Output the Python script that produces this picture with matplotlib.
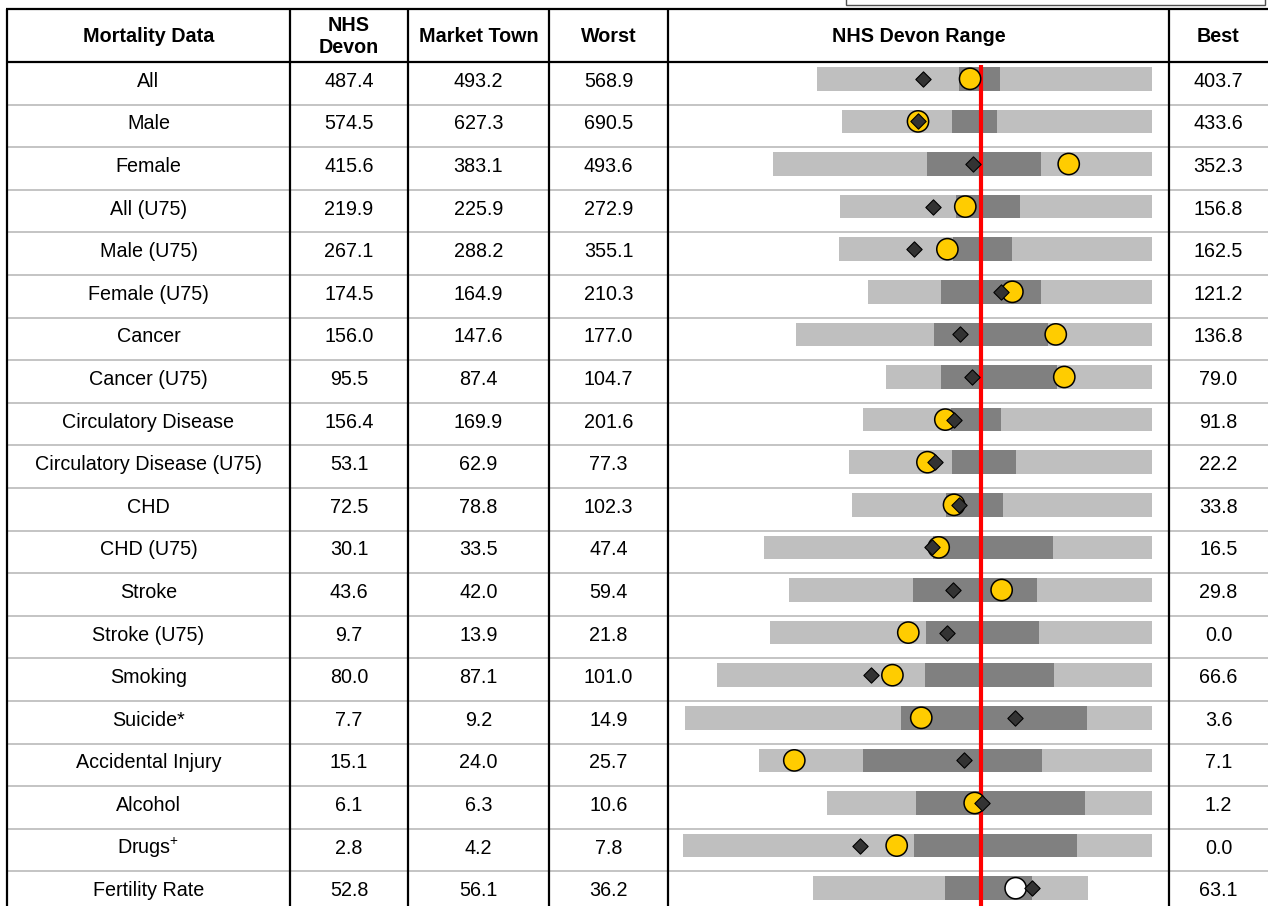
import matplotlib
matplotlib.use("Agg")
import matplotlib.pyplot as plt
from matplotlib.patches import Rectangle

plt.rcParams['font.family'] = ['Liberation Sans', 'DejaVu Sans']
plt.rcParams['mathtext.fontset'] = 'custom'
plt.rcParams['mathtext.rm'] = 'Liberation Sans'

# ---------------- data ----------------
categories = ["All", "Male", "Female", "All (U75)", "Male (U75)", "Female (U75)",
              "Cancer", "Cancer (U75)", "Circulatory Disease",
              "Circulatory Disease (U75)", "CHD", "CHD (U75)", "Stroke",
              "Stroke (U75)", "Smoking", "Suicide*", "Accidental Injury",
              "Alcohol", "Drugs$^{+}$", "Fertility Rate"]
nhs_devon = ["487.4", "574.5", "415.6", "219.9", "267.1", "174.5", "156.0", "95.5",
             "156.4", "53.1", "72.5", "30.1", "43.6", "9.7", "80.0", "7.7", "15.1",
             "6.1", "2.8", "52.8"]
market_town = ["493.2", "627.3", "383.1", "225.9", "288.2", "164.9", "147.6", "87.4",
               "169.9", "62.9", "78.8", "33.5", "42.0", "13.9", "87.1", "9.2", "24.0",
               "6.3", "4.2", "56.1"]
worst = ["568.9", "690.5", "493.6", "272.9", "355.1", "210.3", "177.0", "104.7",
         "201.6", "77.3", "102.3", "47.4", "59.4", "21.8", "101.0", "14.9", "25.7",
         "10.6", "7.8", "36.2"]
best = ["403.7", "433.6", "352.3", "156.8", "162.5", "121.2", "136.8", "79.0",
        "91.8", "22.2", "33.8", "16.5", "29.8", "0.0", "66.6", "3.6", "7.1",
        "1.2", "0.0", "63.1"]

# spine-chart scores (England average = 0, best end = 1)
range_low = [-0.963, -0.816, -1.221, -0.828, -0.834, -0.664, -1.086, -0.559, -0.693,
             -0.775, -0.758, -1.273, -1.127, -1.238, -1.549, -1.736, -1.303, -0.904,
             -1.748, -0.986]
range_high = [1.0, 1.0, 1.0, 1.0, 1.0, 1.0, 1.0, 1.0, 1.0, 1.0, 1.0, 1.0, 1.0, 1.0,
              1.0, 1.0, 1.0, 1.0, 1.0, 0.625]
iqr_low = [-0.131, -0.172, -0.318, -0.148, -0.166, -0.236, -0.277, -0.236, -0.178,
           -0.172, -0.207, -0.283, -0.400, -0.324, -0.330, -0.471, -0.693, -0.383,
           -0.395, -0.213]
iqr_high = [0.109, 0.092, 0.350, 0.227, 0.180, 0.350, 0.391, 0.445, 0.115, 0.203,
            0.127, 0.420, 0.326, 0.338, 0.426, 0.619, 0.355, 0.607, 0.561, 0.297]
devon_score = [-0.344, -0.371, -0.051, -0.281, -0.395, 0.115, -0.127, -0.057, -0.162,
               -0.271, -0.133, -0.289, -0.164, -0.199, -0.648, 0.199, -0.100, 0.006,
               -0.709, 0.299]
town_score = [-0.066, -0.371, 0.512, -0.094, -0.199, 0.182, 0.436, 0.486, -0.211,
              -0.316, -0.160, -0.250, 0.119, -0.428, -0.521, -0.352, -1.096, -0.039,
              -0.496, 0.201]
town_colour = ["#FFCC00"] * 19 + ["#FFFFFF"]
england_avg = 0.0

headers = ["Mortality Data", "NHS\nDevon", "Market Town", "Worst", "NHS Devon Range", "Best"]

# ---------------- layout ----------------
W, H = 1268, 906
col_edges = [7, 290, 408, 549, 668, 1169, 1268]
top_y = 9
head_bot = 62
row_h = 42.6
content_off = 16.8
FS = 14.2

fig = plt.figure(figsize=(W / 100, H / 100), dpi=100)
ax = fig.add_axes([0, 0, 1, 1])
ax.set_xlim(0, W)
ax.set_ylim(H, 0)
ax.axis('off')

n = len(categories)

# row separators
for i in range(1, n):
    y = head_bot + row_h * i
    ax.plot([col_edges[0], W], [y, y], color="#BFBFBF", lw=1.3, zorder=1,
            solid_capstyle='butt')

# header lines
ax.plot([col_edges[0] - 1, W], [top_y, top_y], color="black", lw=1.6, zorder=3,
        solid_capstyle='butt')
ax.plot([col_edges[0], W], [head_bot, head_bot], color="black", lw=1.6, zorder=3,
        solid_capstyle='butt')
for x in col_edges[:-1]:
    ax.plot([x, x], [top_y, H], color="black", lw=1.6, zorder=3, solid_capstyle='butt')

# top-right box (partly cropped)
ax.add_patch(Rectangle((846, -10), 1265 - 846, 14.5, fill=False, edgecolor="#505050",
                       lw=1.0, zorder=3))

# headers
centers = [(col_edges[i] + col_edges[i + 1]) / 2 for i in range(6)]
for c, h in zip(centers, headers):
    ax.text(c, (top_y + head_bot) / 2 + 1, h, ha='center', va='center', fontsize=FS,
            fontweight='bold', linespacing=1.2)

# table cells
for i in range(n):
    yc = head_bot + row_h * i + content_off + 2.5
    ax.text(centers[0], yc, categories[i], ha='center', va='center', fontsize=FS)
    ax.text(centers[1], yc, nhs_devon[i], ha='center', va='center', fontsize=FS)
    ax.text(centers[2], yc, market_town[i], ha='center', va='center', fontsize=FS)
    ax.text(centers[3], yc, worst[i], ha='center', va='center', fontsize=FS)
    ax.text(centers[5], yc, best[i], ha='center', va='center', fontsize=FS)

# ---------------- spine chart column ----------------
x0, x1 = col_edges[4], col_edges[5]
rax = fig.add_axes([x0 / W, 0, (x1 - x0) / W, (H - head_bot) / H])
rax.set_xlim(-1.836, 1.0996)
y_top = -content_off / row_h
y_bot = (H - head_bot - content_off) / row_h
rax.set_ylim(y_bot, y_top)
rax.axis('off')
rax.patch.set_alpha(0)

rows = list(range(n))
bh = 23.7 / row_h
rax.barh(rows, [h - l for l, h in zip(range_low, range_high)], left=range_low,
         height=bh, color="#BFBFBF", zorder=2)
rax.barh(rows, [h - l for l, h in zip(iqr_low, iqr_high)], left=iqr_low,
         height=bh, color="#808080", zorder=3)
rax.plot([england_avg, england_avg], [y_top + 3 / row_h, y_bot], color="#FF0000",
         lw=3.0, zorder=4, solid_capstyle='butt')
rax.scatter(town_score, rows, s=15.3 ** 2, c=town_colour, edgecolors="black",
            linewidths=1.1, zorder=5)
rax.scatter(devon_score, rows, s=7.8 ** 2, marker='D', c="#333333",
            edgecolors="black", linewidths=0.8, zorder=6)

fig.savefig("out.png", dpi=100)
